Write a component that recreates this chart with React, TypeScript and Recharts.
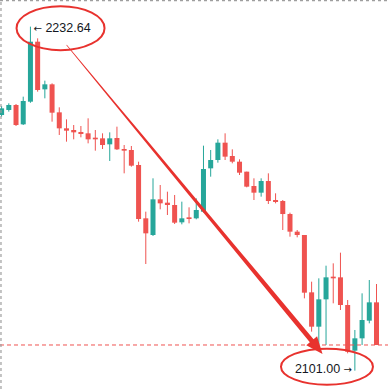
import { ComposedChart, Bar, XAxis, YAxis, ReferenceLine, ReferenceDot } from "recharts";

// candle values (index = candle number)
const opens = [
  2198.83, 2200.75, 2202.66, 2195.26, 2203.93, 2226.89, 2208.65, 2210.57, 2199.85, 2193.73,
  2193.09, 2192.33, 2191.82, 2190.16, 2189.9, 2187.61, 2190.03, 2185.82, 2185.44, 2179.7,
  2159.29, 2152.91, 2166.56, 2165.28, 2164.39, 2157.76, 2159.67, 2159.29, 2161.84, 2178.42,
  2181.61, 2188.24, 2183.14, 2180.97, 2177.15, 2171.66, 2169.11, 2173.57, 2166.3, 2165.92,
  2160.94, 2154.19, 2152.91, 2130.97, 2117.83, 2128.29, 2136.97, 2136.71, 2126.12, 2108.65,
  2113.37, 2120.13, 2127.14,
];
const closes = [
  2201.38, 2202.66, 2195.0, 2204.19, 2226.89, 2208.4, 2210.57, 2199.72, 2193.73, 2192.84,
  2192.2, 2191.56, 2189.52, 2189.52, 2187.35, 2189.9, 2185.69, 2185.18, 2179.44, 2159.03,
  2153.55, 2166.56, 2165.03, 2164.39, 2157.63, 2159.29, 2159.03, 2162.48, 2178.17, 2181.61,
  2188.24, 2182.89, 2180.97, 2176.76, 2171.41, 2169.11, 2173.57, 2165.92, 2165.54, 2160.94,
  2154.19, 2152.91, 2130.84, 2117.83, 2128.29, 2136.71, 2136.33, 2126.12, 2108.26, 2113.37,
  2120.38, 2127.14, 2110.82,
];
const highs = [
  2202.28, 2203.3, 2203.04, 2205.85, 2232.64, 2228.17, 2211.97, 2210.95, 2201.77, 2197.17,
  2195.0, 2194.62, 2197.56, 2193.09, 2191.82, 2192.2, 2194.37, 2187.35, 2186.97, 2180.97,
  2161.84, 2174.6, 2172.04, 2169.49, 2168.22, 2165.67, 2163.5, 2166.94, 2187.1, 2185.44,
  2189.52, 2191.82, 2185.69, 2181.87, 2177.15, 2174.6, 2174.6, 2176.51, 2168.86, 2166.3,
  2161.46, 2154.82, 2152.91, 2135.05, 2136.33, 2141.17, 2142.07, 2146.15, 2128.04, 2116.56,
  2130.59, 2135.69, 2134.16,
];
const lows = [
  2198.19, 2200.11, 2194.62, 2195.0, 2203.5, 2207.76, 2205.21, 2196.28, 2191.18, 2188.63,
  2189.52, 2190.29, 2187.99, 2185.18, 2185.82, 2181.23, 2185.44, 2176.51, 2179.06, 2158.01,
  2141.81, 2152.53, 2162.73, 2160.56, 2157.12, 2156.99, 2157.37, 2158.91, 2161.5, 2175.23,
  2180.59, 2181.61, 2180.34, 2175.87, 2171.15, 2166.3, 2167.58, 2164.77, 2165.03, 2154.82,
  2152.27, 2152.02, 2128.67, 2115.92, 2110.82, 2110.82, 2126.76, 2124.21, 2107.63, 2101.0,
  2110.82, 2119.11, 2110.82,
];

const HIGH_INDEX = 4;
const HIGH_PRICE = 2232.64;
const LOW_INDEX = 49;
const LOW_PRICE = 2101.0;
const LAST_PRICE = 2110.82;

const UP = "#26a69a";
const DOWN = "#ef5350";
const MARK = "#e8322e";
const FONT = "Liberation Sans, Arial, sans-serif";

const data = opens.map((o, i) => ({
  i,
  open: o,
  close: closes[i],
  high: highs[i],
  low: lows[i],
  range: [lows[i], highs[i]],
}));

const Candle = (props: any) => {
  const { x, y, width, height, payload } = props;
  const { open, close, high, low } = payload;
  const k = height / (high - low || 1);
  const yOf = (v: number) => y + (high - v) * k;
  const cx = x + width / 2;
  const color = close >= open ? UP : DOWN;
  const top = yOf(Math.max(open, close));
  const bot = yOf(Math.min(open, close));
  return (
    <g>
      <line x1={cx} x2={cx} y1={y} y2={y + height} stroke={color} strokeWidth={1} />
      <rect x={cx - 2.5} y={top} width={5} height={Math.max(1, bot - top)} fill={color} />
    </g>
  );
};

// tapered arrow: hairline at the start, thick near the head
const Arrow = (props: any) => {
  const { x1, y1, x2, y2 } = props;
  const len = Math.hypot(x2 - x1, y2 - y1);
  const dx = (x2 - x1) / len;
  const dy = (y2 - y1) / len;
  const nx = -dy;
  const ny = dx;
  const headLen = 17;
  const shaft = len - headLen;
  const side = (sign: number) => {
    const out: number[][] = [];
    for (let s = 0; s <= 10; s++) {
      const t = s / 10;
      const w = 0.3 + 2.1 * Math.pow(t, 0.8);
      out.push([x1 + dx * shaft * t + nx * w * sign, y1 + dy * shaft * t + ny * w * sign]);
    }
    return out;
  };
  const bx = x2 - dx * headLen;
  const by = y2 - dy * headLen;
  const left = side(1);
  const right = side(-1).reverse();
  const pts = [...left, [bx + nx * 7, by + ny * 7], [x2, y2], [bx - nx * 7, by - ny * 7], ...right];
  return <polygon points={pts.map((p) => p.join(",")).join(" ")} fill={MARK} />;
};

const HighLabel = (props: any) => {
  const { cx, cy } = props;
  return (
    <g>
      <ellipse cx={cx + 30} cy={cy + 1.5} rx={44} ry={22} fill="none" stroke={MARK} strokeWidth={2} />
      <text x={cx + 3} y={cy + 5} fontSize={12.5} fill="#131722" fontFamily={FONT}>
        <tspan fontFamily="DejaVu Sans" fontSize={10}>←</tspan> {HIGH_PRICE.toFixed(2)}
      </text>
    </g>
  );
};

const LowLabel = (props: any) => {
  const { cx, cy } = props;
  return (
    <g>
      <ellipse cx={cx - 28} cy={cy - 4} rx={46} ry={18} fill="none" stroke={MARK} strokeWidth={2} />
      <text x={cx - 3} y={cy + 2} textAnchor="end" fontSize={12.5} fill="#131722" fontFamily={FONT}>
        {LOW_PRICE.toFixed(2)} <tspan fontFamily="DejaVu Sans" fontSize={10}>→</tspan>
      </text>
    </g>
  );
};

export default function App() {
  return (
    <div style={{ position: "absolute", left: 0, top: 0, width: 388, height: 389, background: "#fff" }}>
      <style>{"body{margin:0}"}</style>
      <ComposedChart width={388} height={389} data={data} margin={{ top: 0, right: 0, bottom: 0, left: 0 }}>
        <XAxis dataKey="i" type="number" domain={[-0.236, 53.58]} hide />
        <YAxis type="number" domain={[2093.98, 2242.84]} hide allowDataOverflow />
        <ReferenceLine y={LAST_PRICE} stroke={DOWN} strokeDasharray="4 3" strokeWidth={1} />
        <ReferenceLine y={2242.6} stroke="#9e9e9e" strokeDasharray="3 3" strokeWidth={1.2} />
        <ReferenceLine x={-0.1} stroke="#9e9e9e" strokeDasharray="3 3" strokeWidth={1.2} />
        <Bar dataKey="range" barSize={5} shape={Candle} isAnimationActive={false} />
        <ReferenceLine
          segment={[
            { x: 9, y: 2225.6 },
            { x: 44.5, y: 2107.4 },
          ]}
          shape={Arrow}
        />
        <ReferenceDot x={HIGH_INDEX} y={HIGH_PRICE} r={0} shape={HighLabel} />
        <ReferenceDot x={LOW_INDEX} y={LOW_PRICE} r={0} shape={LowLabel} />
      </ComposedChart>
    </div>
  );
}
